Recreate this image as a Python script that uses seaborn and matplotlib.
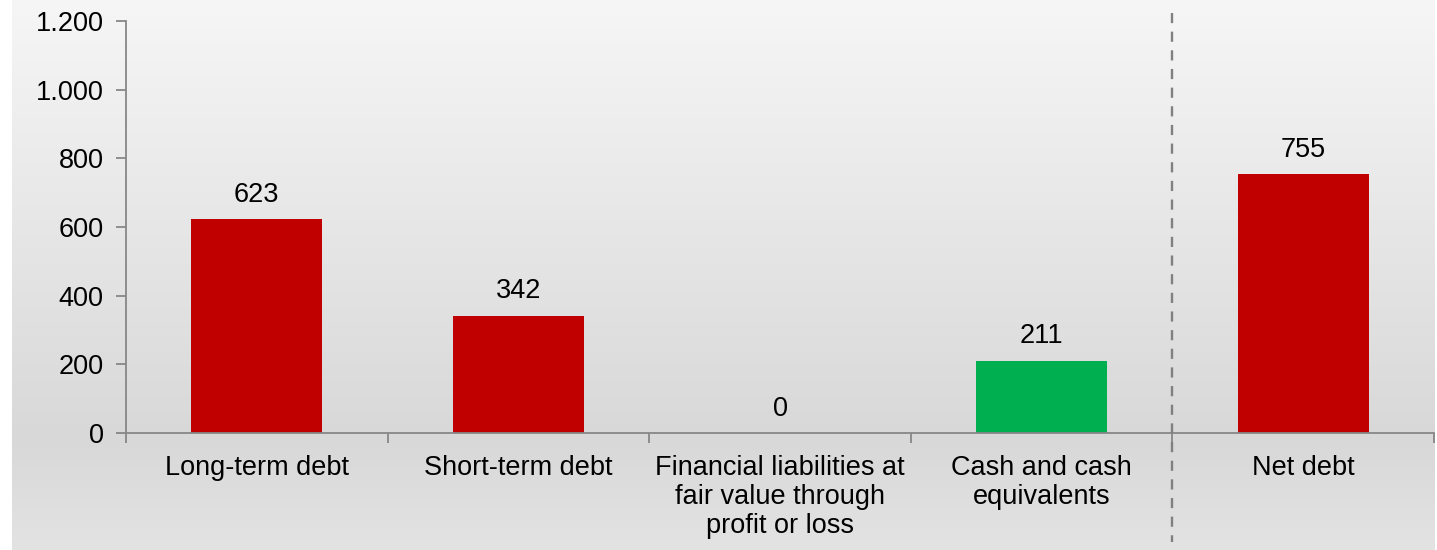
import numpy as np
import pandas as pd
import matplotlib
matplotlib.use("Agg")
import matplotlib.pyplot as plt
import matplotlib.transforms as mtransforms
from matplotlib.colors import LinearSegmentedColormap
from matplotlib.lines import Line2D
import seaborn as sns

categories = ["Long-term debt", "Short-term debt",
              "Financial liabilities at\nfair value through\nprofit or loss",
              "Cash and cash\nequivalents", "Net debt"]
values = [623, 342, 0, 211, 755]
bar_colors = ["#C00000", "#C00000", "#C00000", "#00B050", "#C00000"]
yticks = [0, 200, 400, 600, 800, 1000, 1200]
ytick_labels = ["0", "200", "400", "600", "800", "1.000", "1.200"]

sns.set_theme(style="white")
plt.rcParams['font.family'] = ['Liberation Sans', 'DejaVu Sans']

FS = 19.5
W, H = 1437, 550
fig = plt.figure(figsize=(W / 100, H / 100), dpi=100)
fig.patch.set_facecolor("white")

# gradient background panel
bg = fig.add_axes([12 / W, 0, 1 - 12 / W - 2 / W, 1], zorder=-10)
cmap = LinearSegmentedColormap.from_list(
    "bg", [(0.0, "#f6f6f6"), (0.8, "#d8d8d8"), (1.0, "#e3e3e3")])
grad = np.linspace(0, 1, 256).reshape(-1, 1)
bg.imshow(grad, aspect="auto", cmap=cmap, extent=[0, 1, 1, 0], vmin=0, vmax=1)
bg.set_axis_off()

left, right = 126 / W, 1434 / W
bottom, top = 1 - 433 / H, 1 - 21 / H
ax = fig.add_axes([left, bottom, right - left, top - bottom])
ax.patch.set_alpha(0)

df = pd.DataFrame({"cat": categories, "val": values})
sns.barplot(data=df, x="cat", y="val", hue="cat", palette=bar_colors,
            width=0.5, legend=False, ax=ax, saturation=1, linewidth=0)

ax.set_xlim(-0.5, len(categories) - 0.5)
ax.set_ylim(0, 1200)
ax.set_yticks(yticks)
ax.set_yticklabels(ytick_labels)
ax.set_xlabel("")
ax.set_ylabel("")

spine_c = "#878787"
for s in ["top", "right"]:
    ax.spines[s].set_visible(False)
for s in ["left", "bottom"]:
    ax.spines[s].set_color(spine_c)
    ax.spines[s].set_linewidth(1.3)

ax.tick_params(axis="y", which="major", length=7, width=1.3, color=spine_c,
               labelsize=FS, pad=9, labelcolor="black", left=True)
ax.set_xticks(range(len(categories)))
ax.set_xticklabels(categories, fontsize=FS, linespacing=1.17, va="top")
ax.tick_params(axis="x", which="major", length=0, pad=15.5, labelcolor="black")
ax.set_xticks(np.arange(-0.5, len(categories), 1.0), minor=True)
ax.tick_params(axis="x", which="minor", length=7, width=1.3, color=spine_c, bottom=True)

for i, v in enumerate(values):
    ax.annotate(f"{v}", (i, v), xytext=(0, 8), textcoords="offset points",
                ha="center", va="bottom", fontsize=FS, color="black")

# dashed separator line (data x, figure y)
trans = mtransforms.blended_transform_factory(ax.transData, fig.transFigure)
ln = Line2D([3.5, 3.5], [1 - 13 / H, 1 - 542 / H], transform=trans,
            color="#808080", lw=1.7, linestyle=(0, (4.3, 3.6)), clip_on=False)
fig.add_artist(ln)

fig.savefig("out.png", dpi=100)
